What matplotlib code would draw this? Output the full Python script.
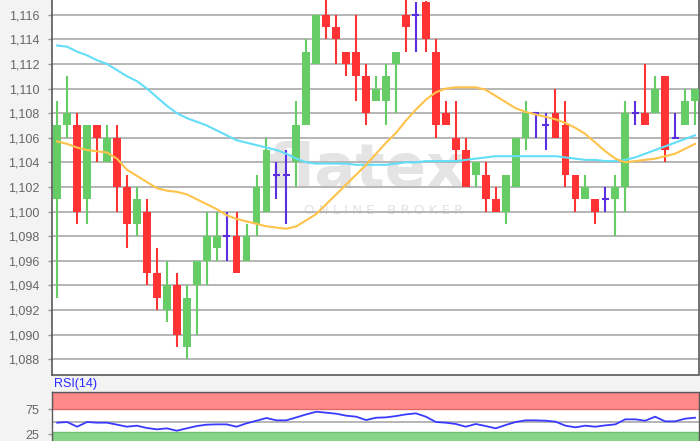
import matplotlib
matplotlib.use("Agg")
import matplotlib.pyplot as plt
import numpy as np

# ---------------- data ----------------
opens = [1.101, 1.107, 1.107, 1.101, 1.107, 1.104, 1.106, 1.102, 1.099, 1.100,
         1.095, 1.092, 1.094, 1.089, 1.094, 1.096, 1.097, 1.098, 1.098, 1.096,
         1.099, 1.100, 1.103, 1.103, 1.104, 1.107, 1.112, 1.116, 1.115, 1.113,
         1.113, 1.111, 1.109, 1.109, 1.112, 1.116, 1.116, 1.117, 1.113, 1.108,
         1.106, 1.105, 1.103, 1.103, 1.101, 1.100, 1.102, 1.106, 1.108, 1.107,
         1.108, 1.107, 1.103, 1.101, 1.101, 1.101, 1.101, 1.102, 1.108, 1.108,
         1.108, 1.111, 1.106, 1.107, 1.109]
highs = [1.109, 1.111, 1.108, 1.107, 1.107, 1.107, 1.107, 1.103, 1.102, 1.101,
         1.097, 1.096, 1.095, 1.094, 1.096, 1.100, 1.100, 1.100, 1.100, 1.099,
         1.103, 1.106, 1.104, 1.105, 1.109, 1.114, 1.116, 1.118, 1.116, 1.113,
         1.116, 1.112, 1.111, 1.112, 1.113, 1.118, 1.117, 1.1171, 1.114, 1.109,
         1.109, 1.106, 1.104, 1.104, 1.102, 1.103, 1.106, 1.109, 1.108, 1.108,
         1.110, 1.109, 1.103, 1.103, 1.101, 1.102, 1.103, 1.109, 1.109, 1.112,
         1.111, 1.111, 1.108, 1.110, 1.110]
lows = [1.093, 1.106, 1.099, 1.099, 1.104, 1.104, 1.100, 1.097, 1.098, 1.094,
        1.092, 1.091, 1.089, 1.088, 1.090, 1.094, 1.096, 1.096, 1.095, 1.096,
        1.098, 1.100, 1.101, 1.099, 1.102, 1.107, 1.112, 1.114, 1.112, 1.111,
        1.109, 1.107, 1.109, 1.107, 1.108, 1.113, 1.113, 1.113, 1.106, 1.107,
        1.104, 1.102, 1.102, 1.100, 1.100, 1.099, 1.102, 1.105, 1.106, 1.105,
        1.106, 1.102, 1.100, 1.101, 1.099, 1.100, 1.098, 1.100, 1.107, 1.107,
        1.108, 1.104, 1.106, 1.107, 1.107]
closes = [1.107, 1.108, 1.100, 1.107, 1.106, 1.106, 1.102, 1.099, 1.101, 1.095,
          1.093, 1.094, 1.090, 1.093, 1.096, 1.098, 1.098, 1.098, 1.095, 1.098,
          1.102, 1.105, 1.103, 1.103, 1.107, 1.113, 1.116, 1.115, 1.114, 1.112,
          1.111, 1.108, 1.110, 1.111, 1.113, 1.115, 1.116, 1.114, 1.107, 1.107,
          1.105, 1.102, 1.104, 1.101, 1.100, 1.103, 1.106, 1.108, 1.108, 1.107,
          1.106, 1.103, 1.101, 1.102, 1.100, 1.101, 1.102, 1.108, 1.108, 1.107,
          1.110, 1.105, 1.106, 1.109, 1.110]

ma_long = [1.1135, 1.1134, 1.1130, 1.1127, 1.1123, 1.1120, 1.1115, 1.1110, 1.1106, 1.1100,
           1.1093, 1.1086, 1.1080, 1.1076, 1.1073, 1.1070, 1.1066, 1.1062, 1.1058, 1.1056,
           1.1054, 1.1052, 1.1050, 1.1047, 1.1043, 1.1040, 1.1039, 1.1039, 1.1039, 1.1039,
           1.1038, 1.1038, 1.1038, 1.1038, 1.1039, 1.1040, 1.1040, 1.1041, 1.1041, 1.1041,
           1.1041, 1.1042, 1.1043, 1.1044, 1.1045, 1.1045, 1.1045, 1.1045, 1.1045, 1.1045,
           1.1045, 1.1044, 1.1043, 1.1042, 1.1042, 1.1041, 1.1041, 1.1042, 1.1044, 1.1047,
           1.1050, 1.1053, 1.1056, 1.1059, 1.1062]
ma_short = [1.1057, 1.1055, 1.1052, 1.1050, 1.1049, 1.1048, 1.1043, 1.1034, 1.1029, 1.1024,
            1.1019, 1.1017, 1.1016, 1.1014, 1.1010, 1.1006, 1.1002, 1.0997, 1.0994, 1.0992,
            1.0990, 1.0988, 1.0987, 1.0986, 1.0988, 1.0993, 1.0998, 1.1006, 1.1014, 1.1022,
            1.1030, 1.1038, 1.1047, 1.1056, 1.1064, 1.1074, 1.1083, 1.1091, 1.1097, 1.1100,
            1.1101, 1.1101, 1.1101, 1.1099, 1.1094, 1.1089, 1.1084, 1.1081, 1.1079, 1.1077,
            1.1075, 1.1072, 1.1068, 1.1063, 1.1056, 1.1049, 1.1043, 1.1040, 1.1041, 1.1042,
            1.1043, 1.1045, 1.1047, 1.1051, 1.1055]
rsi = [48.1, 49.4, 40.2, 49.4, 48.1, 48.1, 44.2, 40.2, 42.2, 37.6,
       35.0, 36.9, 32.3, 36.9, 41.5, 44.2, 44.8, 44.8, 40.2, 46.8,
       52.0, 57.3, 52.7, 52.7, 58.6, 64.5, 69.7, 67.8, 65.8, 61.9,
       59.9, 53.3, 57.9, 58.6, 61.2, 64.5, 66.5, 59.9, 49.4, 48.1,
       45.5, 40.2, 45.5, 41.5, 36.9, 43.5, 49.4, 52.7, 52.7, 52.0,
       50.1, 42.2, 38.9, 42.2, 40.2, 42.8, 44.8, 54.7, 54.7, 52.0,
       59.9, 50.7, 50.7, 56.0, 57.9]

price_ticks = [1.088, 1.090, 1.092, 1.094, 1.096, 1.098, 1.100, 1.102,
               1.104, 1.106, 1.108, 1.110, 1.112, 1.114, 1.116]
rsi_ticks = [25, 75]

# ---------------- styling ----------------
GREEN = "#66cc66"
RED = "#ff3333"
DOJI = "#5b2ee0"
CYAN = "#62def8"
ORANGE = "#ffc24a"
GRID = "#b5b5b5"
SPINE = "#5a5a5a"
BG = "#f3f3f3"

plt.rcParams["font.family"] = ["Liberation Sans", "DejaVu Sans"]

W, H = 700, 441
fig = plt.figure(figsize=(W / 100, H / 100), dpi=100, facecolor=BG)

left_px, right_px = 52, 698.5
ax = fig.add_axes([left_px / W, 66 / H, (right_px - left_px) / W, 375 / H])
ax.set_facecolor("white")

n = len(opens)
x = np.arange(n)
o = np.array(opens); c = np.array(closes); hi = np.array(highs); lo = np.array(lows)

# watermark
ax.text(0.487, (375 - 187) / 375, "flatex", transform=ax.transAxes, ha="center", va="baseline",
        fontsize=44, fontweight="bold", color="#e4e4e4", family="DejaVu Sans", zorder=0.5)
ax.text(0.5135, (375 - 211) / 375, "O N L I N E   B R O K E R", transform=ax.transAxes, ha="center",
        va="center", fontsize=9.5, color="#e2e2e2", family="DejaVu Sans", zorder=0.5)

body_w = 0.78
for i in range(n):
    if abs(o[i] - c[i]) < 1e-9:
        col = DOJI
        ax.vlines(x[i], lo[i], hi[i], color=col, lw=1.5, zorder=3)
        ax.hlines(o[i], x[i] - 0.35, x[i] + 0.35, color=col, lw=1.5, zorder=3)
        continue
    col = GREEN if c[i] > o[i] else RED
    ax.vlines(x[i], lo[i], hi[i], color=col, lw=1.5, zorder=2)
    ax.bar(x[i], abs(c[i] - o[i]), bottom=min(o[i], c[i]), width=body_w,
           color=col, edgecolor="none", zorder=3)

ax.plot(x, ma_long, color=CYAN, lw=1.5, zorder=4)
ax.plot(x, ma_short, color=ORANGE, lw=1.5, zorder=4)

ax.set_xlim(-0.52, 64.35)
ax.set_ylim(1.08671, 1.11720)
ax.set_yticks(price_ticks)
ax.set_yticklabels([f"{v:.3f}".replace(".", ",") for v in price_ticks])
ax.set_xticks([])
ax.yaxis.grid(True, color=GRID, lw=1.4, zorder=1)
ax.set_axisbelow(True)
ax.tick_params(axis="y", length=3, width=1, color="#999999", labelsize=9,
               labelcolor="#666666", pad=6)
for s in ["left", "bottom", "right"]:
    ax.spines[s].set_color(SPINE)
    ax.spines[s].set_linewidth(1.2)
ax.spines["top"].set_visible(False)

# ---------------- RSI panel ----------------
rax = fig.add_axes([left_px / W, 0, (right_px - left_px) / W, 48.7 / H])
rax.set_facecolor("white")
rax.set_xlim(-0.52, 64.35)
rax.set_ylim(12, 108)
rax.axhspan(75, 108, facecolor="#ff8a8a", edgecolor="#e06a6a", lw=1.0, zorder=1)
rax.axhspan(0, 30.3, facecolor="#88d488", edgecolor="#6cc06c", lw=1.0, zorder=1)
rax.axhline(50, color=GRID, lw=1.4, zorder=1)
rax.plot(x, rsi, color="#3a3aff", lw=1.3, zorder=3)
rax.set_xticks([])
rax.set_yticks(rsi_ticks)
rax.set_yticklabels([str(t) for t in rsi_ticks])
rax.tick_params(axis="y", length=3, width=1, color="#999999", labelsize=9,
                labelcolor="#666666", pad=6)
for s in ["left", "right", "top"]:
    rax.spines[s].set_color(SPINE)
    rax.spines[s].set_linewidth(1.0)
rax.spines["bottom"].set_visible(False)

fig.text(54 / W, 1 - 384 / H, "RSI(14)", color="#2a2aff", fontsize=9, va="center", ha="left")

fig.savefig("out.png", dpi=100, facecolor=BG)
